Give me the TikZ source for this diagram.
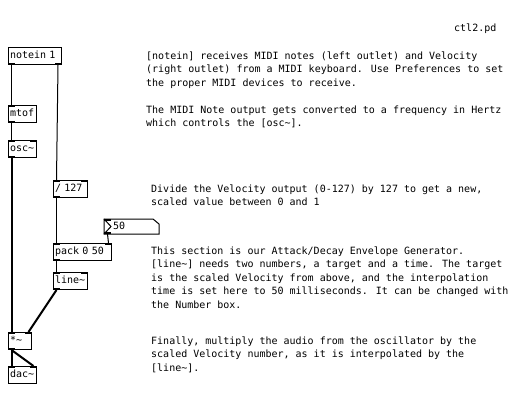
\documentclass[tikz,border=0pt]{standalone}
\usepackage{fontspec}
\newfontfamily\pdfont{DejaVu Sans Mono}
\protected\def\pdtextfont{\pdfont\fontsize{10}{13.5}\selectfont\spaceskip 6.02pt\relax}
\usepackage{tikz}

\begin{document}
\begin{tikzpicture}[x=1pt, y=-1pt,
                    obj/.style={font=\pdtextfont, draw, line width=1pt, anchor=north west,
                      inner xsep=1.5pt, inner ysep=3.5pt, text height=7.6pt,
                      text depth=2.4pt, align=left},
                    comment/.style={font=\pdtextfont, anchor=north west, inner sep=0pt, align=left},
                    ctl/.style={line width=1pt},
                    sig/.style={line width=2pt},
                    iolet/.style={fill=black}]
  \useasboundingbox[fill=white] (0,0) rectangle (519,405);
  \def\tl{\textasciitilde}

  % objects
  \node[obj, text width=50pt] (notein) at (8,47)  {notein 1};
  \node[obj, text width=25pt] (mtof)   at (8,105) {mtof};
  \node[obj, text width=25pt] (osc)    at (8,140) {osc\tl};
  \node[obj, text width=31pt] (div)    at (53,180) {/ 127};
  \node[obj, text width=37pt, inner xsep=8.5pt, inner ysep=2pt, draw=none]
                              (num)    at (104,219) {50};
  \node[obj, text width=55pt] (pack)   at (53,243) {pack 0 50};
  \node[obj, text width=31pt] (line)   at (53,272) {line\tl};
  \node[obj, text width=20pt] (mul)    at (8,332) {*\tl};
  \node[obj, text width=25pt] (dac)    at (8,366) {dac\tl};

  % number box outline
  \draw[line width=1pt] (num.north west) -- ([xshift=-6pt]num.north east)
    -- ([yshift=-5pt]num.north east) -- (num.south east) -- (num.south west) -- cycle;
  \draw[line width=1pt] (num.north west) -- ([xshift=7pt]num.west) -- (num.south west);

  % inlets and outlets
  \foreach \n in {mtof,osc,div,num,pack,line,mul,dac}
    \fill[iolet] (\n.north west) rectangle ++(7,2);
  \foreach \n in {osc,div,pack,line,mul,dac}
    \fill[iolet] (\n.north east) rectangle ++(-7,2);
  \foreach \n in {notein,mtof,osc,div,num,pack,line,mul}
    \fill[iolet] (\n.south west) rectangle ++(7,-2);
  \fill[iolet] (notein.south east) rectangle ++(-7,-2);

  % connections
  \draw[ctl] ([xshift=3.5pt]notein.south west) -- ([xshift=3.5pt]mtof.north west);
  \draw[ctl] ([xshift=-4pt]notein.south east) -- ([xshift=3.5pt]div.north west);
  \draw[ctl] ([xshift=3.5pt]mtof.south west) -- ([xshift=3.5pt]osc.north west);
  \draw[sig] ([xshift=3.5pt]osc.south west) -- ([xshift=3.5pt]mul.north west);
  \draw[ctl] ([xshift=3.5pt]div.south west) -- ([xshift=3.5pt]pack.north west);
  \draw[ctl] ([xshift=3.5pt]num.south west) -- ([xshift=-3.5pt]pack.north east);
  \draw[ctl] ([xshift=3.5pt]pack.south west) -- ([xshift=3.5pt]line.north west);
  \draw[sig] ([xshift=3.5pt]line.south west) -- ([xshift=-3.5pt]mul.north east);
  \draw[sig] ([xshift=3.5pt]mul.south west) -- ([xshift=3.5pt]dac.north west);
  \draw[sig] ([xshift=3.5pt]mul.south west) -- ([xshift=-3.5pt]dac.north east);

  % comments
  \node[comment, anchor=base west] (title) at (454,31) {ctl2.pd};
  \node[comment] (c1) at (146,51.4) {[notein] receives MIDI notes (left outlet) and Velocity\\
    (right outlet) from a MIDI keyboard. Use Preferences to set\\
    the proper MIDI devices to receive.};
  \node[comment] (c2) at (146,105.4) {The MIDI Note output gets converted to a frequency in Hertz\\
    which controls the [osc\tl].};
  \node[comment] (c3) at (151,184.4) {Divide the Velocity output (0-127) by 127 to get a new,\\
    scaled value between 0 and 1};
  \node[comment] (c4) at (151,246.4) {This section is our Attack/Decay Envelope Generator.\\{}%
    [line\tl] needs two numbers, a target and a time. The target\\
    is the scaled Velocity from above, and the interpolation\\
    time is set here to 50 milliseconds. It can be changed with\\
    the Number box.};
  \node[comment] (c5) at (151,336.4) {Finally, multiply the audio from the oscillator by the\\
    scaled Velocity number, as it is interpolated by the\\{}%
    [line\tl].};
\end{tikzpicture}
\end{document}
